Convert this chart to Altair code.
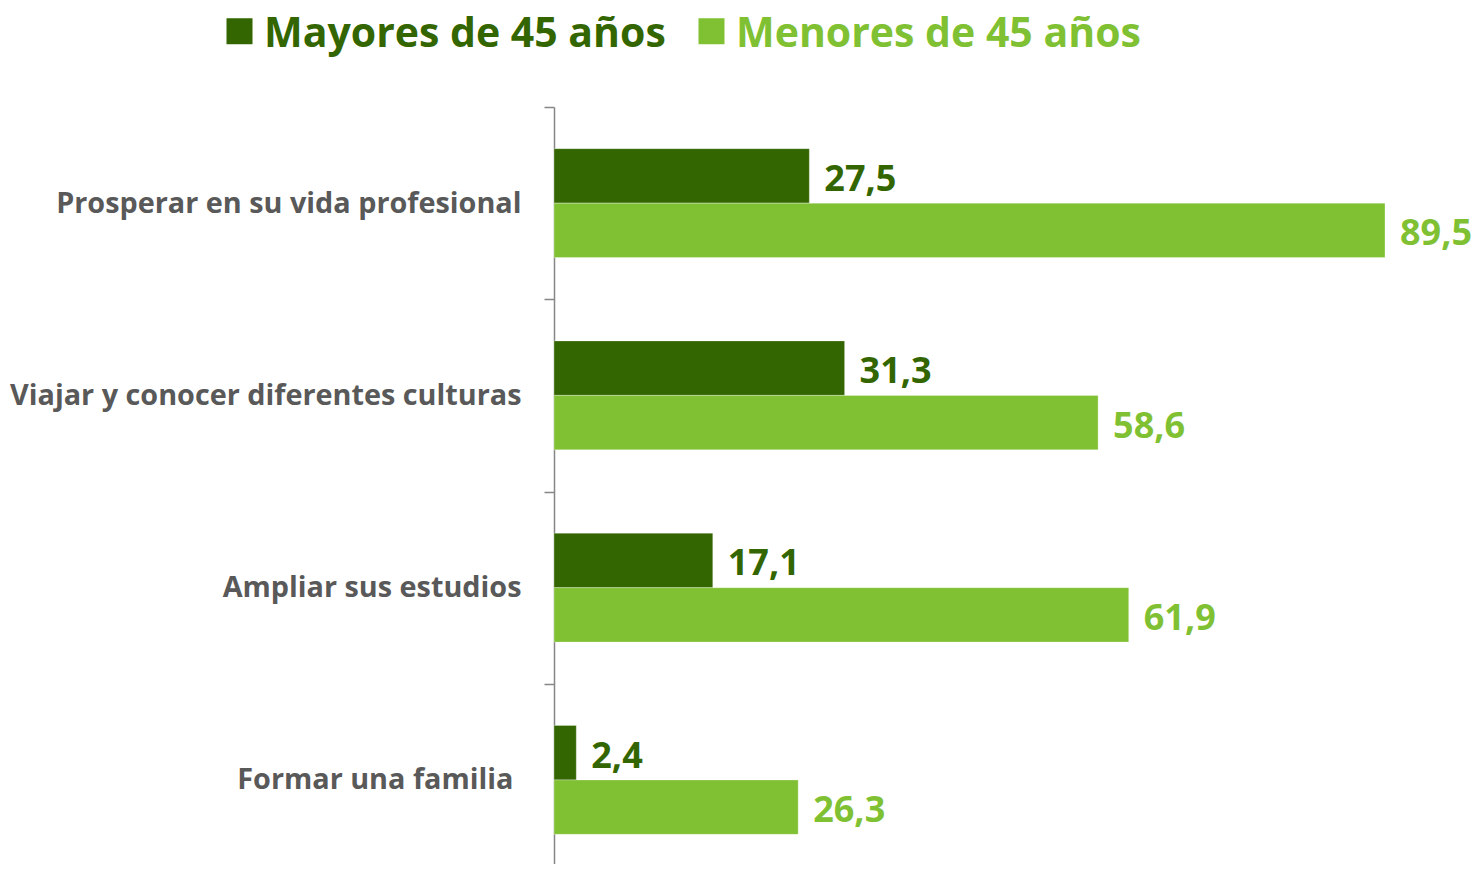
import altair as alt
import pandas as pd

categorias = [
    "Prosperar en su vida profesional",
    "Viajar y conocer diferentes culturas",
    "Ampliar sus estudios",
    "Formar una familia",
]
series = ["Mayores de 45 años", "Menores de 45 años"]
mayores = [27.5, 31.3, 17.1, 2.4]
menores = [89.5, 58.6, 61.9, 26.3]
colores = ["#336600", "#80C133"]

rows = []
for c, a, b in zip(categorias, mayores, menores):
    rows.append({"categoria": c, "serie": series[0], "valor": a})
    rows.append({"categoria": c, "serie": series[1], "valor": b})
df = pd.DataFrame(rows)

FONT = "Open Sans"

y_enc = alt.Y(
    "categoria:N",
    sort=categorias,
    title=None,
    scale=alt.Scale(range=[0, 769], paddingInner=0, paddingOuter=0),
    axis=alt.Axis(
        tickBand="extent",
        domainColor="#868686",
        tickColor="#868686",
        domainWidth=1.5,
        tickWidth=1.5,
        tickSize=10,
        labelPadding={"condition": {"test": "datum.value == 'Formar una familia'", "value": 31}, "value": 23},
        labelFont=FONT,
        labelFontSize=28.8,
        labelFontWeight="bold",
        labelColor="#595959",
        labelLimit=600,
        grid=False,
    ),
)
yoff = alt.YOffset("serie:N", sort=series, scale=alt.Scale(paddingInner=0, paddingOuter=0.764))
x_enc = alt.X("valor:Q", scale=alt.Scale(domain=[0, 93], nice=False, zero=True), axis=None)
color_enc = alt.Color(
    "serie:N",
    sort=series,
    scale=alt.Scale(domain=series, range=colores),
    title=None,
    legend=alt.Legend(
        orient="none",
        legendX=-335,
        legendY=-93,
        direction="horizontal",
        symbolType="M-1,-1.27H1V0.73H-1Z",
        symbolSize=676,
        symbolStrokeWidth=0,
        symbolOpacity=1,
        labelFont=FONT,
        labelFontSize=41,
        labelFontWeight="bold",
        labelColor=alt.ExprRef(expr="datum.label == 'Mayores de 45 años' ? '#336600' : '#80C133'"),
        labelOffset=4,
        labelLimit=800,
        columnPadding=25,
        padding=0,
    ),
)

bars = alt.Chart(df).mark_bar(stroke="#ffffff", strokeWidth=0.6, strokeOpacity=0.5).encode(
    y=y_enc, yOffset=yoff, x=x_enc, color=color_enc
)

texts = (
    alt.Chart(df)
    .transform_calculate(etiqueta="replace(format(datum.valor, '.1f'), '.', ',')")
    .mark_text(align="left", baseline="middle", dx=15, dy=4, font=FONT, fontSize=36, fontWeight="bold")
    .encode(
        y=alt.Y("categoria:N", sort=categorias),
        yOffset=alt.YOffset("serie:N", sort=series),
        x=alt.X("valor:Q", axis=None),
        text="etiqueta:N",
        color=alt.Color("serie:N", sort=series, legend=None),
    )
)

chart = (
    alt.layer(bars, texts)
    .properties(
        width=863.5,
        height=757,
        padding={"left": 546, "top": 99, "right": 55, "bottom": 0},
        autosize=alt.AutoSizeParams(type="none"),
        background="#ffffff",
    )
    .configure_view(strokeWidth=0)
)

chart.save("out.html", embed_options={"renderer": "svg", "actions": False})
